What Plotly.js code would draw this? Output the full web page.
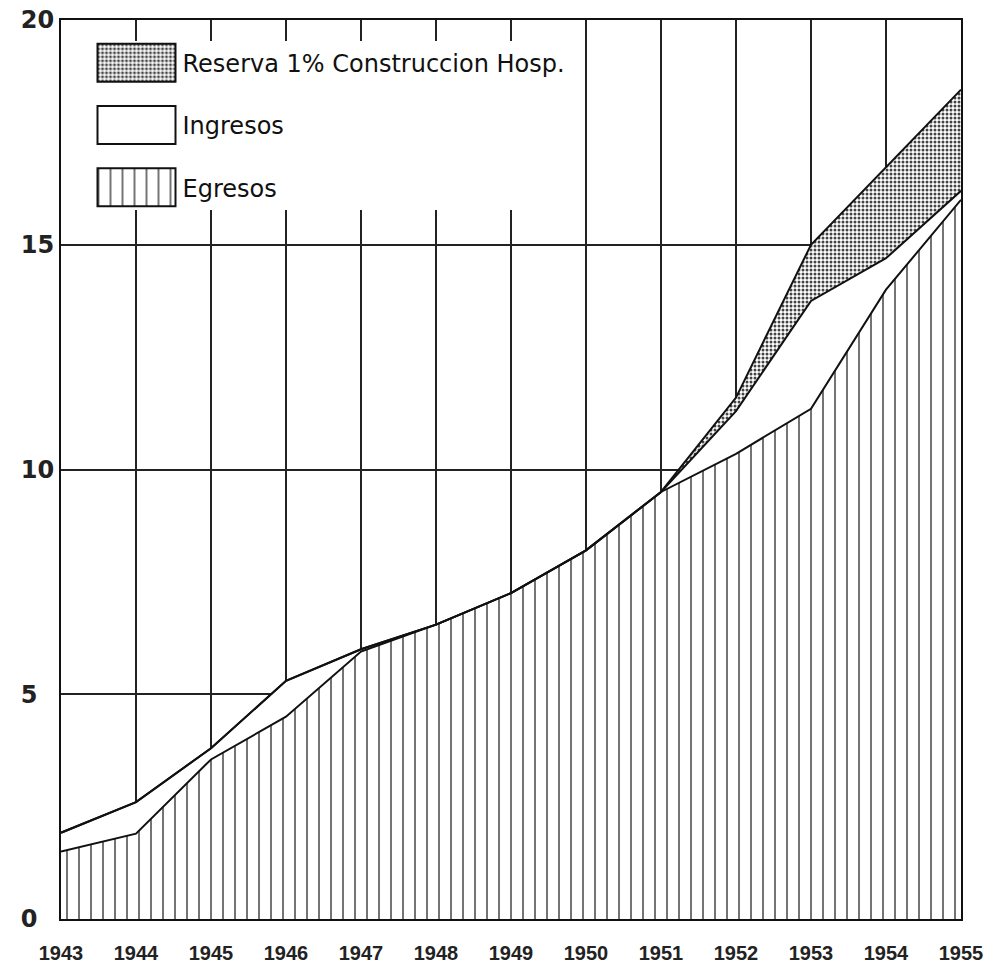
<!DOCTYPE html>
<html>
<head>
<meta charset="utf-8">
<script src="https://cdn.plot.ly/plotly-3.0.1.min.js"></script>
<style>
html,body{margin:0;padding:0;background:#fff;}
#chart{width:1005px;height:977px;}
</style>
</head>
<body>
<div id="chart"></div>
<script>
// ---- data (millions) ----
const years = [1943,1944,1945,1946,1947,1948,1949,1950,1951,1952,1953,1954,1955];
const yearLabels = ['1943','1944','1945','1946','1947','1948','1949','1950','1951','1952','1953','1954','1955'];
const egresos  = [1.50,1.90,3.55,4.50,5.95,6.55,7.25,8.20,9.50,10.35,11.35,14.00,16.00];
const ingresos = [1.92,2.60,3.80,5.30,6.00,6.55,7.25,8.20,9.50,11.30,13.75,14.70,16.20];
const reserva  = [0,0,0,0,0,0,0,0,0,0.30,1.25,2.03,2.25];
const yTickVals = [0,5,10,15,20];
const yTickText = ['0\u2007','5\u2007','10','15','20'];
const seriesNames = ['Egresos','Ingresos','Reserva 1% Construccion Hosp.'];

const total = ingresos.map((v,i)=>v+reserva[i]);

const lineStyle = {color:'#111', width:2};

const data = [
  {
    x: years, y: egresos, name: seriesNames[0], mode: 'lines', legendgroup: 'e', legendrank: 3,
    line: lineStyle, fill: 'tozeroy', fillcolor: 'white',
    fillpattern: {shape:'|', size:12, solidity:0.15, fgcolor:'#222', fgopacity:0.7, bgcolor:'white'}
  },
  {
    x: years, y: ingresos, name: seriesNames[1], mode: 'lines', legendgroup: 'i', legendrank: 2,
    line: lineStyle, fill: 'tonexty', fillcolor: 'white'
  },
  {
    x: years, y: total, name: seriesNames[2], mode: 'lines', legendgroup: 'r', legendrank: 1,
    line: lineStyle, fill: 'tonexty', fillcolor: 'white',
    fillpattern: {shape:'.', size:4, solidity:0.45, fgcolor:'#444', bgcolor:'white'}
  }
];

const layout = {
  width: 1005, height: 977,
  margin: {l:61, r:44, t:20, b:58},
  paper_bgcolor: 'white', plot_bgcolor: 'white',
  font: {family: 'DejaVu Sans', color: '#111'},
  showlegend: true,
  xaxis: {
    range: [1943,1955], tickmode: 'array', tickvals: years, ticktext: yearLabels,
    showgrid: true, gridcolor: '#222', gridwidth: 2,
    showline: true, mirror: true, linecolor: '#111', linewidth: 2,
    zeroline: false, ticks: '', ticklabelstandoff: 15,
    tickfont: {size: 20, weight: 'bold', color: '#222', family: 'Liberation Sans'}
  },
  yaxis: {
    range: [0,20], tickmode: 'array', tickvals: yTickVals, ticktext: yTickText,
    showgrid: true, gridcolor: '#222', gridwidth: 2,
    showline: true, mirror: true, linecolor: '#111', linewidth: 2,
    zeroline: false, ticks: '',
    tickfont: {size: 24, weight: 'bold', color: '#222'}
  },
  legend: {
    x: 0.035, y: 0.977, xanchor: 'left', yanchor: 'top',
    bgcolor: 'white', borderwidth: 0,
    font: {size: 24, color: '#111', family: 'DejaVu Sans'},
    itemwidth: 80, traceorder: 'grouped', tracegroupgap: 28
  }
};

Plotly.newPlot('chart', data, layout, {staticPlot: true}).then(gd => {
  gd.querySelectorAll('.legend .traces').forEach(tr => {
    const f = tr.querySelector('.legendfill path');
    if (f) {
      f.setAttribute('d', 'M5,-19h78v38h-78z');
      f.style.stroke = '#111';
      f.style.strokeWidth = '2px';
    }
    tr.querySelectorAll('.legendlines path').forEach(l => { l.style.display = 'none'; });
  });
});
</script>
</body>
</html>
